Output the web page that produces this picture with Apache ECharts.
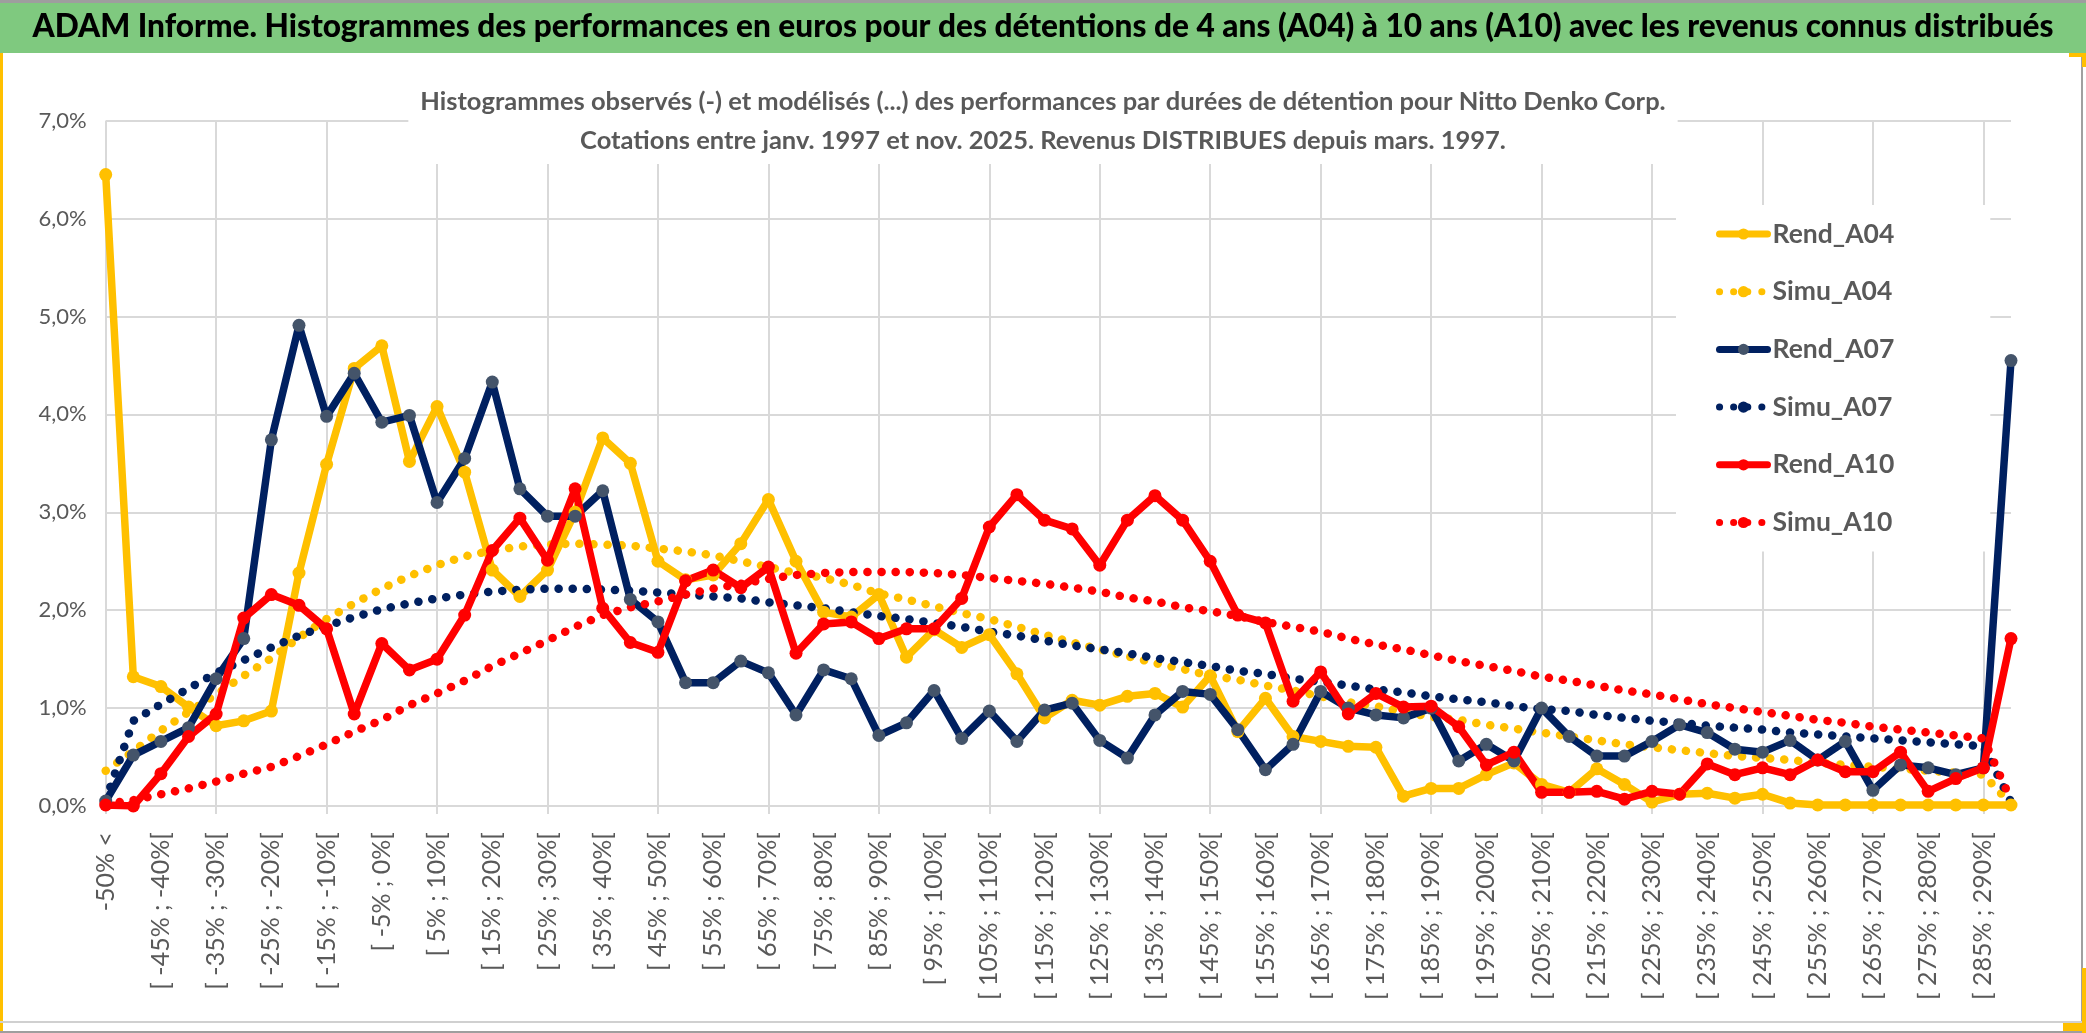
<!DOCTYPE html>
<html>
<head>
<meta charset="utf-8">
<script src="https://cdn.jsdelivr.net/npm/echarts@6/dist/echarts.min.js"></script>
<style>
html,body{margin:0;padding:0;background:#fff;}
#c{width:2086px;height:1033px;}
</style>
</head>
<body>
<div id="c"></div>
<script>
const categories = ["-50% <","[ -50% ; -45%[","[ -45% ; -40%[","[ -40% ; -35%[","[ -35% ; -30%[","[ -30% ; -25%[","[ -25% ; -20%[","[ -20% ; -15%[","[ -15% ; -10%[","[ -10% ; -5%[",
"[ -5% ; 0%[","[ 0% ; 5%[","[ 5% ; 10%[","[ 10% ; 15%[","[ 15% ; 20%[","[ 20% ; 25%[","[ 25% ; 30%[","[ 30% ; 35%[","[ 35% ; 40%[","[ 40% ; 45%[",
"[ 45% ; 50%[","[ 50% ; 55%[","[ 55% ; 60%[","[ 60% ; 65%[","[ 65% ; 70%[","[ 70% ; 75%[","[ 75% ; 80%[","[ 80% ; 85%[","[ 85% ; 90%[","[ 90% ; 95%[",
"[ 95% ; 100%[","[ 100% ; 105%[","[ 105% ; 110%[","[ 110% ; 115%[","[ 115% ; 120%[","[ 120% ; 125%[","[ 125% ; 130%[","[ 130% ; 135%[","[ 135% ; 140%[","[ 140% ; 145%[",
"[ 145% ; 150%[","[ 150% ; 155%[","[ 155% ; 160%[","[ 160% ; 165%[","[ 165% ; 170%[","[ 170% ; 175%[","[ 175% ; 180%[","[ 180% ; 185%[","[ 185% ; 190%[","[ 190% ; 195%[",
"[ 195% ; 200%[","[ 200% ; 205%[","[ 205% ; 210%[","[ 210% ; 215%[","[ 215% ; 220%[","[ 220% ; 225%[","[ 225% ; 230%[","[ 230% ; 235%[","[ 235% ; 240%[","[ 240% ; 245%[",
"[ 245% ; 250%[","[ 250% ; 255%[","[ 255% ; 260%[","[ 260% ; 265%[","[ 265% ; 270%[","[ 270% ; 275%[","[ 275% ; 280%[","[ 280% ; 285%[","[ 285% ; 290%[","> 290%"];

// values in percent
const rendA04 = [6.45,1.32,1.22,1.01,0.82,0.87,0.97,2.38,3.49,4.47,
4.70,3.52,4.08,3.41,2.41,2.14,2.41,3.00,3.76,3.50,
2.50,2.31,2.36,2.68,3.13,2.50,1.98,1.93,2.16,1.52,
1.80,1.62,1.75,1.35,0.90,1.08,1.03,1.12,1.15,1.01,
1.33,0.76,1.10,0.71,0.66,0.61,0.60,0.10,0.18,0.18,
0.32,0.44,0.22,0.14,0.38,0.22,0.04,0.12,0.13,0.08,
0.12,0.03,0.01,0.01,0.01,0.01,0.01,0.01,0.01,0.01];
const simuA04 = [0.36,0.56,0.77,0.96,1.14,1.33,1.51,1.72,1.91,2.07,
2.22,2.35,2.46,2.55,2.61,2.65,2.67,2.68,2.67,2.66,
2.63,2.60,2.56,2.50,2.44,2.38,2.33,2.26,2.17,2.11,
2.04,1.97,1.91,1.83,1.75,1.67,1.60,1.53,1.46,1.40,
1.33,1.29,1.23,1.18,1.12,1.06,1.02,0.96,0.91,0.88,
0.83,0.79,0.75,0.71,0.67,0.63,0.60,0.57,0.54,0.51,
0.49,0.47,0.44,0.42,0.40,0.38,0.36,0.34,0.32,0.02];
const rendA07 = [0.05,0.52,0.66,0.80,1.30,1.71,3.74,4.91,3.98,4.42,
3.92,3.99,3.10,3.55,4.33,3.24,2.96,2.96,3.22,2.11,
1.88,1.26,1.26,1.48,1.36,0.93,1.39,1.30,0.72,0.85,
1.18,0.69,0.97,0.66,0.98,1.05,0.67,0.49,0.93,1.17,
1.14,0.78,0.37,0.63,1.17,1.00,0.93,0.90,1.00,0.46,
0.63,0.46,1.00,0.71,0.51,0.51,0.66,0.83,0.75,0.58,
0.55,0.67,0.47,0.66,0.16,0.42,0.39,0.32,0.39,4.55];
const simuA07 = [0.06,0.87,1.04,1.20,1.36,1.49,1.62,1.74,1.84,1.93,
2.01,2.07,2.12,2.16,2.19,2.21,2.22,2.22,2.21,2.20,
2.18,2.16,2.14,2.12,2.08,2.05,2.02,1.98,1.94,1.91,
1.87,1.83,1.78,1.74,1.69,1.64,1.60,1.56,1.51,1.47,
1.43,1.38,1.35,1.30,1.27,1.23,1.19,1.16,1.12,1.09,
1.06,1.02,0.99,0.97,0.93,0.90,0.87,0.85,0.82,0.80,
0.78,0.75,0.73,0.71,0.69,0.67,0.65,0.63,0.61,0.04];
const rendA10 = [0.01,0.00,0.33,0.71,0.94,1.92,2.16,2.05,1.81,0.94,
1.66,1.39,1.50,1.95,2.61,2.94,2.51,3.24,2.02,1.67,
1.57,2.30,2.41,2.23,2.44,1.56,1.86,1.88,1.71,1.81,
1.81,2.12,2.85,3.18,2.92,2.83,2.46,2.92,3.17,2.92,
2.50,1.95,1.87,1.07,1.37,0.94,1.15,1.01,1.02,0.81,
0.42,0.55,0.14,0.14,0.15,0.07,0.15,0.12,0.43,0.32,
0.39,0.32,0.47,0.35,0.35,0.55,0.15,0.28,0.39,1.71];
const simuA10 = [0.02,0.06,0.12,0.18,0.25,0.33,0.40,0.51,0.63,0.76,
0.88,1.03,1.15,1.28,1.43,1.56,1.69,1.83,1.95,2.03,
2.09,2.16,2.22,2.27,2.32,2.36,2.38,2.39,2.39,2.39,
2.38,2.36,2.33,2.30,2.27,2.23,2.19,2.13,2.09,2.03,
1.99,1.94,1.88,1.83,1.78,1.71,1.65,1.60,1.54,1.48,
1.43,1.38,1.32,1.28,1.23,1.18,1.14,1.09,1.04,1.00,
0.96,0.92,0.88,0.85,0.81,0.78,0.75,0.72,0.69,0.06];
const yTicks = [0,1,2,3,4,5,6,7];

const mainTitle = "ADAM Informe. Histogrammes des performances en euros pour des détentions de 4 ans (A04) à 10 ans (A10) avec les revenus connus distribués";
const subTitle = "Histogrammes observés (-) et modélisés (...) des performances par durées de détention pour Nitto Denko Corp.\nCotations entre janv. 1997 et nov. 2025. Revenus DISTRIBUES depuis mars. 1997.";

const YELLOW = '#FFC000', NAVY = '#002060', RED = '#FF0000', NAVYMARK = '#44546A';
const GRID = '#D9D9D9', TXT = '#595959';
const FONT = 'Lato';

function rend(name, data, color, mark) {
  return {
    name, type: 'line', data, symbol: 'circle', symbolSize: 13, showSymbol: true,
    lineStyle: { width: 7.5, color: color, cap: 'round', join: 'round' },
    itemStyle: { color: mark, borderWidth: 0 },
    emphasis: { disabled: true }, animation: false, z: 3
  };
}
function simu(name, data, color) {
  return {
    name, type: 'line', data, symbol: 'none', showSymbol: false,
    lineStyle: { width: 8.5, color: color, type: [0.1, 14], cap: 'round' },
    itemStyle: { color: color },
    emphasis: { disabled: true }, animation: false, z: 3
  };
}

const chart = echarts.init(document.getElementById('c'), null, { renderer: 'canvas', width: 2086, height: 1033 });
chart.setOption({
  backgroundColor: '#ffffff',
  animation: false,
  graphic: [
    { type: 'rect', z: -10, shape: { x: 0, y: 0, width: 2086, height: 3 }, style: { fill: '#9E9E9E' } },
    { type: 'rect', z: -10, shape: { x: 0, y: 3, width: 2086, height: 50 }, style: { fill: '#7FC97F' } },
    { type: 'rect', z: -10, shape: { x: 0, y: 53, width: 3, height: 980 }, style: { fill: YELLOW } },
    { type: 'rect', z: -10, shape: { x: 2081, y: 53, width: 2, height: 970 }, style: { fill: '#A0A0A0' } },
    { type: 'rect', z: -10, shape: { x: 0, y: 1021, width: 2083, height: 2 }, style: { fill: '#D0D0D0' } },
    { type: 'rect', z: -10, shape: { x: 0, y: 1031, width: 2086, height: 2 }, style: { fill: '#9E9E9E' } },
    { type: 'rect', z: -10, shape: { x: 2082, y: 968, width: 4, height: 65 }, style: { fill: YELLOW } },
    { type: 'rect', z: -10, shape: { x: 2063, y: 1023, width: 23, height: 8 }, style: { fill: YELLOW } },
    { type: 'rect', z: -10, shape: { x: 2082, y: 53, width: 4, height: 14 }, style: { fill: YELLOW } },
    { type: 'rect', z: -10, shape: { x: 2069, y: 53, width: 17, height: 4 }, style: { fill: YELLOW } }
  ],
  title: [
    {
      text: mainTitle, left: 'center', top: 7, padding: 0, z: 10,
      textStyle: { fontFamily: FONT, fontWeight: 900, fontSize: 31.6, color: '#000000', lineHeight: 40 }
    },
    {
      text: subTitle, left: 'center', top: 80, z: 10,
      padding: [2, 12, 4, 12], backgroundColor: '#ffffff',
      textStyle: { fontFamily: FONT, fontWeight: 'bold', fontSize: 25.5, color: TXT, lineHeight: 39 }
    }
  ],
  legend: {
    data: ['Rend_A04', 'Simu_A04', 'Rend_A07', 'Simu_A07', 'Rend_A10', 'Simu_A10'],
    orient: 'vertical', left: 1676, top: 205,
    padding: [14, 96, 14, 40], backgroundColor: '#ffffff',
    itemWidth: 48, itemHeight: 14, itemGap: 27.7, selectedMode: false, z: 8,
    lineStyle: { width: 7 },
    textStyle: { fontFamily: FONT, fontWeight: 'bold', fontSize: 26.5, color: TXT, lineHeight: 30 }
  },
  grid: { left: 105.7, right: 75, top: 120.7, bottom: 227, containLabel: false, outerBoundsMode: 'none' },
  xAxis: {
    type: 'category', data: categories, boundaryGap: false,
    axisLine: { show: true, lineStyle: { color: GRID, width: 2 } },
    axisTick: { show: true, interval: 3, length: 8, lineStyle: { color: GRID, width: 2 } },
    splitLine: { show: true, interval: 3, lineStyle: { color: GRID, width: 2 } },
    axisLabel: { interval: 1, rotate: 90, margin: 26, fontFamily: FONT, fontSize: 25, color: TXT }
  },
  yAxis: {
    type: 'value', min: yTicks[0], max: yTicks[yTicks.length - 1], interval: 1,
    axisLine: { show: false }, axisTick: { show: false },
    splitLine: { show: true, lineStyle: { color: GRID, width: 2 } },
    axisLabel: { margin: 19, fontFamily: FONT, fontSize: 22, color: TXT,
      formatter: v => v.toFixed(1).replace('.', ',') + '%' }
  },
  series: [
    rend('Rend_A04', rendA04, YELLOW, YELLOW),
    simu('Simu_A04', simuA04, YELLOW),
    rend('Rend_A07', rendA07, NAVY, NAVYMARK),
    simu('Simu_A07', simuA07, NAVY),
    rend('Rend_A10', rendA10, RED, RED),
    simu('Simu_A10', simuA10, RED)
  ]
});
</script>
</body>
</html>
